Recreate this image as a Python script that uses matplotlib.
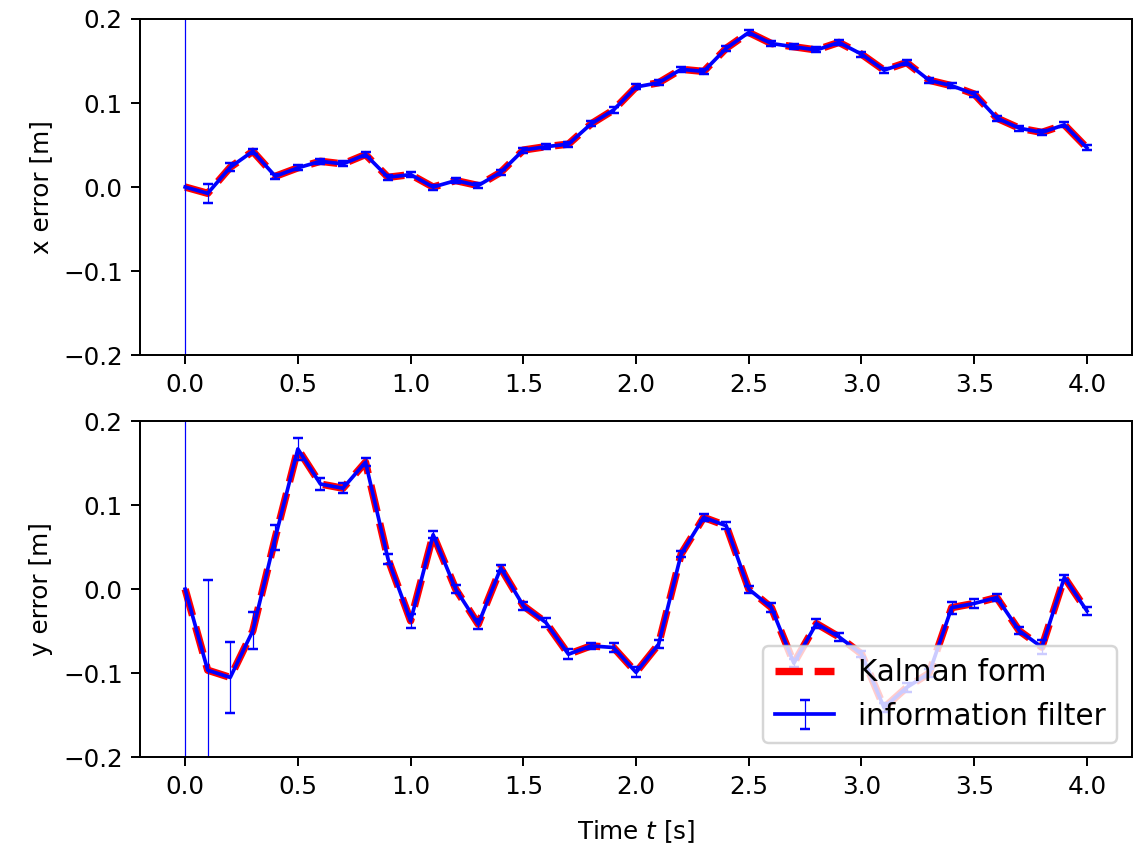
import numpy as np
import matplotlib
matplotlib.use('Agg')
import matplotlib.pyplot as plt


# time stamps [s]
t = [0.0, 0.1, 0.2, 0.3, 0.4, 0.5, 0.6, 0.7, 0.8, 0.9,
     1.0, 1.1, 1.2, 1.3, 1.4, 1.5, 1.6, 1.7, 1.8, 1.9,
     2.0, 2.1, 2.2, 2.3, 2.4, 2.5, 2.6, 2.7, 2.8, 2.9,
     3.0, 3.1, 3.2, 3.3, 3.4, 3.5, 3.6, 3.7, 3.8, 3.9, 4.0]

# estimation error in x (both filters give the same estimate)
x_err = [0.0, -0.0075, 0.0235, 0.0425, 0.0128, 0.0228, 0.0306, 0.0275, 0.0386, 0.0116,
         0.0148, 0.0, 0.0077, 0.0018, 0.0176, 0.044, 0.048, 0.051, 0.075, 0.0916,
         0.119, 0.124, 0.140, 0.1375, 0.165, 0.1838, 0.1707, 0.1668, 0.163, 0.172,
         0.158, 0.139, 0.148, 0.127, 0.1205, 0.1106, 0.082, 0.070, 0.065, 0.074, 0.0465]

# estimation error in y
y_err = [0.0, -0.0964, -0.105, -0.0496, 0.0615, 0.1667, 0.125, 0.120, 0.151, 0.0357,
         -0.0377, 0.0647, 0.0, -0.0417, 0.025, -0.0198, -0.0397, -0.0774, -0.0675, -0.0694,
         -0.099, -0.0655, 0.0417, 0.0853, 0.0754, 0.0, -0.0218, -0.088, -0.041, -0.0567,
         -0.077, -0.141, -0.117, -0.100, -0.022, -0.017, -0.010, -0.0496, -0.069, 0.014, -0.026]

# standard deviations from the information filter
x_sigma = [1.0, 0.011, 0.005, 0.003, 0.003, 0.003, 0.003, 0.003, 0.003, 0.003,
           0.003, 0.003, 0.003, 0.003, 0.003, 0.003, 0.003, 0.003, 0.003, 0.003,
           0.003, 0.003, 0.003, 0.003, 0.003, 0.003, 0.003, 0.003, 0.003, 0.003,
           0.003, 0.003, 0.003, 0.003, 0.003, 0.003, 0.003, 0.003, 0.003, 0.003, 0.003]
y_sigma = [1.0, 0.107, 0.042, 0.022, 0.015, 0.013, 0.007, 0.006, 0.005, 0.006,
           0.008, 0.004, 0.005, 0.006, 0.004, 0.005, 0.005, 0.006, 0.004, 0.005,
           0.006, 0.005, 0.004, 0.0045, 0.004, 0.004, 0.005, 0.005, 0.005, 0.005,
           0.004, 0.005, 0.005, 0.005, 0.007, 0.005, 0.004, 0.004, 0.008, 0.003, 0.005]


def main():
    fig, axes = plt.subplots(2, 1, figsize=(6.4, 4.82), dpi=177.2)
    fig.subplots_adjust(left=0.1235, right=0.9982, top=0.9778, bottom=0.1132, hspace=0.1955)

    for ax, err, sigma, name in zip(axes, [x_err, y_err], [x_sigma, y_sigma], ['x', 'y']):
        ax.plot(t, err, 'r--', lw=3, label='Kalman form')
        ax.errorbar(t, err, yerr=sigma, color='b', lw=1.5, elinewidth=0.5,
                    capsize=2, label='information filter')
        ax.set_ylim(-0.2, 0.2)
        ax.set_ylabel('%s error [m]' % name)

    axes[1].set_xlabel('Time $t$ [s]', labelpad=8)
    axes[1].legend(loc='lower right', fontsize=12)

    fig.savefig('out.png', dpi=177.2)


if __name__ == "__main__":
    main()
